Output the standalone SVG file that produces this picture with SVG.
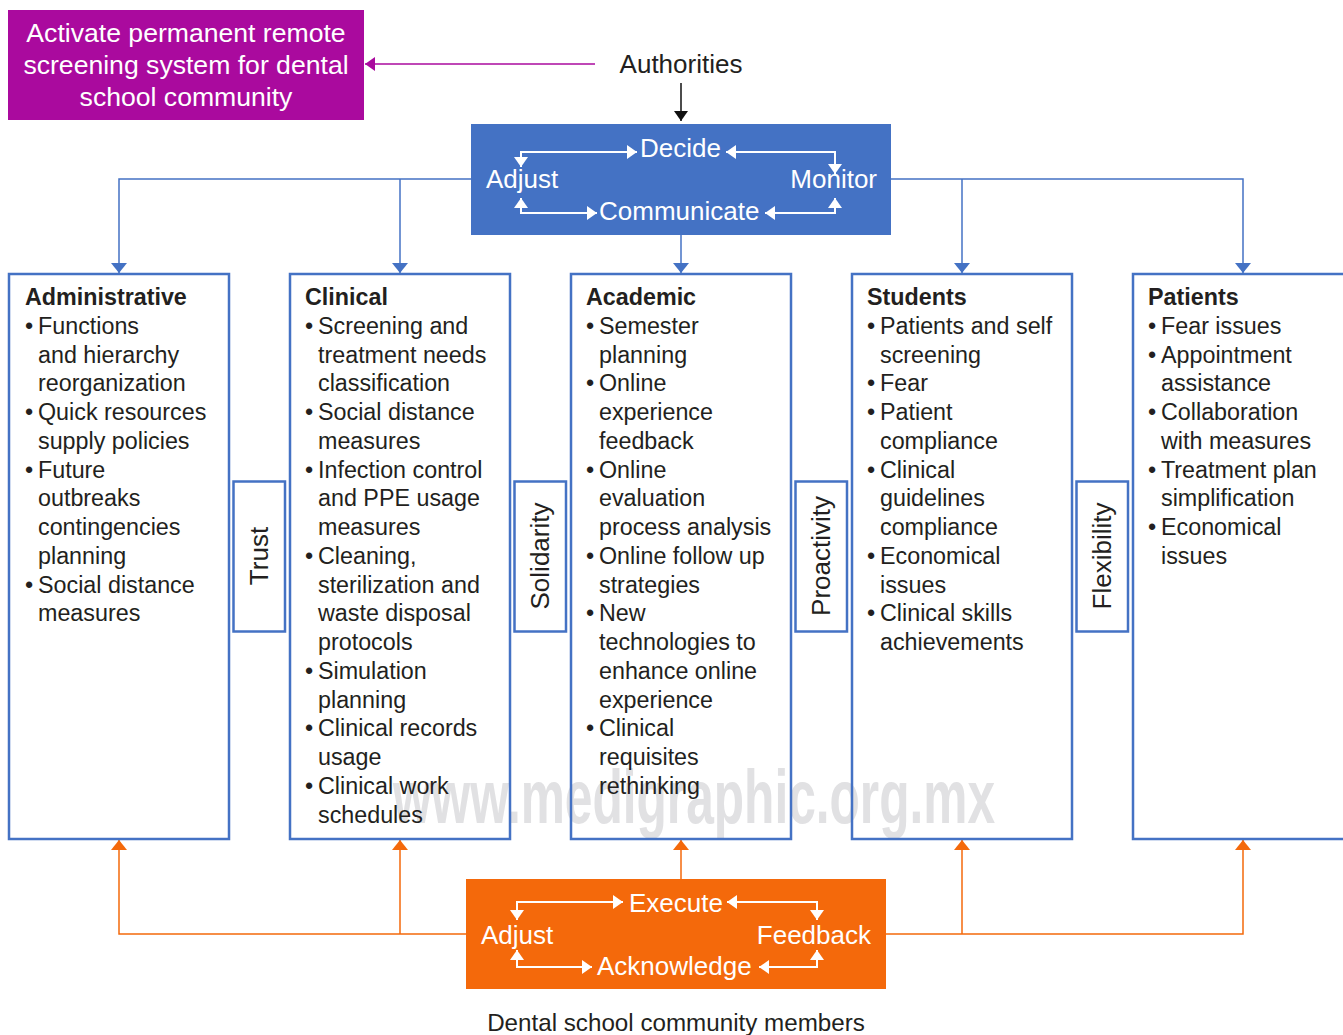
<svg xmlns="http://www.w3.org/2000/svg" width="1343" height="1035" viewBox="0 0 1343 1035">
<style>
text{font-family:"Liberation Sans",Arial,sans-serif;}
.col{font-size:23.3px;fill:#231F20;}
.ttl{font-weight:bold;}
.wt{font-size:26px;fill:#FFFFFF;}
.lbl{font-size:26px;fill:#231F20;text-anchor:middle;}
.box{fill:none;stroke:#4472C4;stroke-width:2.5;}
.cb{fill:none;stroke:#4472C4;stroke-width:1.5;}
.co{fill:none;stroke:#F4690B;stroke-width:1.5;}
.cw{fill:none;stroke:#FFFFFF;stroke-width:2;}
</style>
<defs>
<marker id="mb" markerUnits="userSpaceOnUse" viewBox="0 0 10 16" markerWidth="10" markerHeight="16" refX="10" refY="8" orient="auto"><path d="M0,0 L10,8 L0,16Z" fill="#4472C4"/></marker>
<marker id="mo" markerUnits="userSpaceOnUse" viewBox="0 0 10 16" markerWidth="10" markerHeight="16" refX="10" refY="8" orient="auto"><path d="M0,0 L10,8 L0,16Z" fill="#F4690B"/></marker>
<marker id="mk" markerUnits="userSpaceOnUse" viewBox="0 0 10 14" markerWidth="10" markerHeight="14" refX="10" refY="7" orient="auto"><path d="M0,0 L10,7 L0,14Z" fill="#111111"/></marker>
<marker id="mm" markerUnits="userSpaceOnUse" viewBox="0 0 10 14" markerWidth="10" markerHeight="14" refX="10" refY="7" orient="auto"><path d="M0,0 L10,7 L0,14Z" fill="#AA0A9E"/></marker>
<marker id="mw" markerUnits="userSpaceOnUse" viewBox="0 0 10 14" markerWidth="10" markerHeight="14" refX="10" refY="7" orient="auto-start-reverse"><path d="M0,0 L10,7 L0,14Z" fill="#FFFFFF"/></marker>
</defs>
<rect width="1343" height="1035" fill="#FFFFFF"/>

<text x="393" y="823" font-size="76" font-weight="bold" textLength="602" lengthAdjust="spacingAndGlyphs" fill="#E1E1E3">www.medigraphic.org.mx</text>

<g id="connectors">
<path class="cb" d="M471,179 H119 V273" marker-end="url(#mb)"/>
<path class="cb" d="M400,179 V273" marker-end="url(#mb)"/>
<path class="cb" d="M681,235 V273" marker-end="url(#mb)"/>
<path class="cb" d="M891,179 H1243 V273" marker-end="url(#mb)"/>
<path class="cb" d="M962,179 V273" marker-end="url(#mb)"/>
<path class="co" d="M466,934 H119 V840" marker-end="url(#mo)"/>
<path class="co" d="M400,934 V840" marker-end="url(#mo)"/>
<path class="co" d="M681,879 V840" marker-end="url(#mo)"/>
<path class="co" d="M886,934 H1243 V840" marker-end="url(#mo)"/>
<path class="co" d="M962,934 V840" marker-end="url(#mo)"/>
<path d="M681,83 V121" stroke="#111111" stroke-width="1.5" fill="none" marker-end="url(#mk)"/>
<path d="M595,64 H365" stroke="#AA0A9E" stroke-width="1.5" fill="none" marker-end="url(#mm)"/>
</g>

<g id="remote-screening">
<rect x="8" y="10" width="356" height="110" fill="#AA0A9E"/>
<text class="wt" text-anchor="middle" style="font-size:26.6px"><tspan x="186" y="42">Activate permanent remote</tspan><tspan x="186" y="74">screening system for dental</tspan><tspan x="186" y="106">school community</tspan></text>
</g>

<g id="authorities">
<text class="lbl" x="681" y="73">Authorities</text>
</g>

<g id="authority-cycle">
<rect x="471" y="124" width="420" height="111" fill="#4472C4"/>
<path class="cw" d="M521,167 V152 H637" marker-start="url(#mw)" marker-end="url(#mw)"/>
<path class="cw" d="M726,152 H835 V174" marker-start="url(#mw)" marker-end="url(#mw)"/>
<path class="cw" d="M521,198 V213 H597" marker-start="url(#mw)" marker-end="url(#mw)"/>
<path class="cw" d="M765,213 H835 V198" marker-start="url(#mw)" marker-end="url(#mw)"/>
<text class="wt" x="640" y="157">Decide</text>
<text class="wt" x="486" y="188">Adjust</text>
<text class="wt" x="877" y="188" text-anchor="end">Monitor</text>
<text class="wt" x="599" y="220">Communicate</text>
</g>

<g id="community-cycle">
<rect x="466" y="879" width="420" height="110" fill="#F4690B"/>
<path class="cw" d="M517,920 V902 H623" marker-start="url(#mw)" marker-end="url(#mw)"/>
<path class="cw" d="M727,902 H817 V920" marker-start="url(#mw)" marker-end="url(#mw)"/>
<path class="cw" d="M517,950 V967 H592" marker-start="url(#mw)" marker-end="url(#mw)"/>
<path class="cw" d="M759,967 H817 V950" marker-start="url(#mw)" marker-end="url(#mw)"/>
<text class="wt" x="629" y="912">Execute</text>
<text class="wt" x="481" y="944">Adjust</text>
<text class="wt" x="871" y="944" text-anchor="end">Feedback</text>
<text class="wt" x="597" y="975">Acknowledge</text>
</g>

<g id="community-members">
<text class="lbl" x="676" y="1031" style="font-size:24.2px">Dental school community members</text>
</g>

<g id="administrative">
<rect class="box" x="9" y="274" width="220" height="565"/>
<text class="col"><tspan class="ttl" x="25" y="305">Administrative</tspan>
<tspan x="38" y="333.75">Functions</tspan><tspan x="38" y="362.5">and hierarchy</tspan><tspan x="38" y="391.25">reorganization</tspan>
<tspan x="38" y="420">Quick resources</tspan><tspan x="38" y="448.75">supply policies</tspan>
<tspan x="38" y="477.5">Future</tspan><tspan x="38" y="506.25">outbreaks</tspan><tspan x="38" y="535">contingencies</tspan><tspan x="38" y="563.75">planning</tspan>
<tspan x="38" y="592.5">Social distance</tspan><tspan x="38" y="621.25">measures</tspan></text>
<text class="col"><tspan x="25" y="333.75">•</tspan><tspan x="25" y="420">•</tspan><tspan x="25" y="477.5">•</tspan><tspan x="25" y="592.5">•</tspan></text>
</g>

<g id="clinical">
<rect class="box" x="290" y="274" width="220" height="565"/>
<text class="col"><tspan class="ttl" x="305" y="305">Clinical</tspan>
<tspan x="318" y="333.75">Screening and</tspan><tspan x="318" y="362.5">treatment needs</tspan><tspan x="318" y="391.25">classification</tspan>
<tspan x="318" y="420">Social distance</tspan><tspan x="318" y="448.75">measures</tspan>
<tspan x="318" y="477.5">Infection control</tspan><tspan x="318" y="506.25">and PPE usage</tspan><tspan x="318" y="535">measures</tspan>
<tspan x="318" y="563.75">Cleaning,</tspan><tspan x="318" y="592.5">sterilization and</tspan><tspan x="318" y="621.25">waste disposal</tspan><tspan x="318" y="650">protocols</tspan>
<tspan x="318" y="678.75">Simulation</tspan><tspan x="318" y="707.5">planning</tspan>
<tspan x="318" y="736.25">Clinical records</tspan><tspan x="318" y="765">usage</tspan>
<tspan x="318" y="793.75">Clinical work</tspan><tspan x="318" y="822.5">schedules</tspan></text>
<text class="col"><tspan x="305" y="333.75">•</tspan><tspan x="305" y="420">•</tspan><tspan x="305" y="477.5">•</tspan><tspan x="305" y="563.75">•</tspan><tspan x="305" y="678.75">•</tspan><tspan x="305" y="736.25">•</tspan><tspan x="305" y="793.75">•</tspan></text>
</g>

<g id="academic">
<rect class="box" x="571" y="274" width="220" height="565"/>
<text class="col"><tspan class="ttl" x="586" y="305">Academic</tspan>
<tspan x="599" y="333.75">Semester</tspan><tspan x="599" y="362.5">planning</tspan>
<tspan x="599" y="391.25">Online</tspan><tspan x="599" y="420">experience</tspan><tspan x="599" y="448.75">feedback</tspan>
<tspan x="599" y="477.5">Online</tspan><tspan x="599" y="506.25">evaluation</tspan><tspan x="599" y="535">process analysis</tspan>
<tspan x="599" y="563.75">Online follow up</tspan><tspan x="599" y="592.5">strategies</tspan>
<tspan x="599" y="621.25">New</tspan><tspan x="599" y="650">technologies to</tspan><tspan x="599" y="678.75">enhance online</tspan><tspan x="599" y="707.5">experience</tspan>
<tspan x="599" y="736.25">Clinical</tspan><tspan x="599" y="765">requisites</tspan><tspan x="599" y="793.75">rethinking</tspan></text>
<text class="col"><tspan x="586" y="333.75">•</tspan><tspan x="586" y="391.25">•</tspan><tspan x="586" y="477.5">•</tspan><tspan x="586" y="563.75">•</tspan><tspan x="586" y="621.25">•</tspan><tspan x="586" y="736.25">•</tspan></text>
</g>

<g id="students">
<rect class="box" x="852" y="274" width="220" height="565"/>
<text class="col"><tspan class="ttl" x="867" y="305">Students</tspan>
<tspan x="880" y="333.75">Patients and self</tspan><tspan x="880" y="362.5">screening</tspan>
<tspan x="880" y="391.25">Fear</tspan>
<tspan x="880" y="420">Patient</tspan><tspan x="880" y="448.75">compliance</tspan>
<tspan x="880" y="477.5">Clinical</tspan><tspan x="880" y="506.25">guidelines</tspan><tspan x="880" y="535">compliance</tspan>
<tspan x="880" y="563.75">Economical</tspan><tspan x="880" y="592.5">issues</tspan>
<tspan x="880" y="621.25">Clinical skills</tspan><tspan x="880" y="650">achievements</tspan></text>
<text class="col"><tspan x="867" y="333.75">•</tspan><tspan x="867" y="391.25">•</tspan><tspan x="867" y="420">•</tspan><tspan x="867" y="477.5">•</tspan><tspan x="867" y="563.75">•</tspan><tspan x="867" y="621.25">•</tspan></text>
</g>

<g id="patients">
<rect class="box" x="1133" y="274" width="220" height="565"/>
<text class="col"><tspan class="ttl" x="1148" y="305">Patients</tspan>
<tspan x="1161" y="333.75">Fear issues</tspan>
<tspan x="1161" y="362.5">Appointment</tspan><tspan x="1161" y="391.25">assistance</tspan>
<tspan x="1161" y="420">Collaboration</tspan><tspan x="1161" y="448.75">with measures</tspan>
<tspan x="1161" y="477.5">Treatment plan</tspan><tspan x="1161" y="506.25">simplification</tspan>
<tspan x="1161" y="535">Economical</tspan><tspan x="1161" y="563.75">issues</tspan></text>
<text class="col"><tspan x="1148" y="333.75">•</tspan><tspan x="1148" y="362.5">•</tspan><tspan x="1148" y="420">•</tspan><tspan x="1148" y="477.5">•</tspan><tspan x="1148" y="535">•</tspan></text>
</g>

<g id="trust">
<rect class="box" x="233.5" y="481.5" width="51.5" height="150"/>
<text class="lbl" transform="translate(268,556) rotate(-90)">Trust</text>
</g>
<g id="solidarity">
<rect class="box" x="514.5" y="481.5" width="51.5" height="150"/>
<text class="lbl" transform="translate(549,556) rotate(-90)">Solidarity</text>
</g>
<g id="proactivity">
<rect class="box" x="795.5" y="481.5" width="51.5" height="150"/>
<text class="lbl" transform="translate(830,556) rotate(-90)">Proactivity</text>
</g>
<g id="flexibility">
<rect class="box" x="1076.5" y="481.5" width="51.5" height="150"/>
<text class="lbl" transform="translate(1111,556) rotate(-90)">Flexibility</text>
</g>
</svg>
